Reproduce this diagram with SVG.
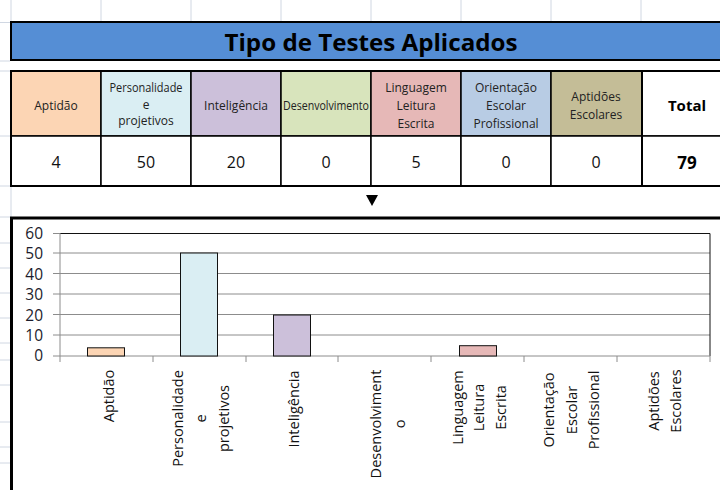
<svg xmlns="http://www.w3.org/2000/svg" width="720" height="490" viewBox="0 0 720 490">
<style>
  .grid{stroke:#d0d7e2;stroke-width:1;fill:none}
  .hdr{font-family:"Open Sans","Liberation Sans",sans-serif;font-size:12px;fill:#222;text-anchor:middle;dominant-baseline:central}
  .val{font-family:"Open Sans","Liberation Sans",sans-serif;font-size:16px;fill:#111;text-anchor:middle;dominant-baseline:central}
  .cell{stroke:#000;stroke-width:1.5}
  .ylab{font-family:"Open Sans","Liberation Sans",sans-serif;font-size:15.5px;fill:#1c1c2c;text-anchor:end;dominant-baseline:central}
  .xlab{font-family:"Open Sans","Liberation Sans",sans-serif;font-size:14.5px;fill:#111;text-anchor:middle;dominant-baseline:central}
  .gl{stroke:#8c8c8c;stroke-width:1}
  .bar{stroke:#111;stroke-width:1}
</style>
<rect width="720" height="490" fill="#fff"/>
<g id="sheet-grid">
  <path class="grid" d="M11,0V21M101,0V21M191,0V21M281,0V21M371,0V21M461,0V21M551,0V21M641,0V21M11,186V217"/>
  <path class="grid" d="M0,22.5H10M0,61H10M0,71H10M0,136H10M0,186H10M0,217H10M0,243H10M0,268H10M0,293H10M0,318H10M0,343H10M0,360H10M0,385H10M0,422H10M0,447H10M0,463H10"/>
</g>
<g id="title">
  <rect x="11" y="22" width="715" height="38" fill="#558ed5" stroke="#000" stroke-width="2"/>
  <text x="371" y="42" font-family="Open Sans, Liberation Sans, sans-serif" font-size="23" font-weight="bold" fill="#000" text-anchor="middle" dominant-baseline="central" textLength="293" lengthAdjust="spacingAndGlyphs">Tipo de Testes Aplicados</text>
</g>
<g id="table">
  <g id="h-aptidao"><rect class="cell" x="11" y="71" width="90" height="65" fill="#fcd5b4"/><text class="hdr" x="56" y="105">Aptidão</text></g>
  <g id="h-personalidade"><rect class="cell" x="101" y="71" width="90" height="65" fill="#daeef3"/>
    <text class="hdr" x="146" y="87" font-size="11" textLength="73" lengthAdjust="spacingAndGlyphs">Personalidade</text>
    <text class="hdr" x="146" y="104" font-size="11">e</text>
    <text class="hdr" x="146" y="120">projetivos</text></g>
  <g id="h-inteligencia"><rect class="cell" x="191" y="71" width="90" height="65" fill="#ccc0da"/><text class="hdr" x="236" y="105">Inteligência</text></g>
  <g id="h-desenvolvimento"><rect class="cell" x="281" y="71" width="90" height="65" fill="#d8e4bc"/><text class="hdr" x="326" y="105" font-size="10" textLength="86" lengthAdjust="spacingAndGlyphs">Desenvolvimento</text></g>
  <g id="h-linguagem"><rect class="cell" x="371" y="71" width="90" height="65" fill="#e6b8b7"/>
    <text class="hdr" x="416" y="87">Linguagem</text>
    <text class="hdr" x="416" y="105">Leitura</text>
    <text class="hdr" x="416" y="123">Escrita</text></g>
  <g id="h-orientacao"><rect class="cell" x="461" y="71" width="90" height="65" fill="#b8cce4"/>
    <text class="hdr" x="506" y="87">Orientação</text>
    <text class="hdr" x="506" y="105">Escolar</text>
    <text class="hdr" x="506" y="123">Profissional</text></g>
  <g id="h-aptidoes"><rect class="cell" x="551" y="71" width="91" height="65" fill="#c4bd97"/>
    <text class="hdr" x="596" y="96">Aptidões</text>
    <text class="hdr" x="596" y="114">Escolares</text></g>
  <g id="h-total"><rect class="cell" x="642" y="71" width="90" height="65" fill="#fff"/>
    <text x="687" y="105" font-family="Open Sans, Liberation Sans, sans-serif" font-size="15" font-weight="bold" fill="#000" text-anchor="middle" dominant-baseline="central">Total</text></g>

  <g id="v-aptidao"><rect class="cell" x="11" y="136" width="90" height="50" fill="#fff"/><text class="val" x="56" y="162">4</text></g>
  <g id="v-personalidade"><rect class="cell" x="101" y="136" width="90" height="50" fill="#fff"/><text class="val" x="146" y="162">50</text></g>
  <g id="v-inteligencia"><rect class="cell" x="191" y="136" width="90" height="50" fill="#fff"/><text class="val" x="236" y="162">20</text></g>
  <g id="v-desenvolvimento"><rect class="cell" x="281" y="136" width="90" height="50" fill="#fff"/><text class="val" x="326" y="162">0</text></g>
  <g id="v-linguagem"><rect class="cell" x="371" y="136" width="90" height="50" fill="#fff"/><text class="val" x="416" y="162">5</text></g>
  <g id="v-orientacao"><rect class="cell" x="461" y="136" width="90" height="50" fill="#fff"/><text class="val" x="506" y="162">0</text></g>
  <g id="v-aptidoes"><rect class="cell" x="551" y="136" width="91" height="50" fill="#fff"/><text class="val" x="596" y="162">0</text></g>
  <g id="v-total"><rect class="cell" x="642" y="136" width="90" height="50" fill="#fff"/>
    <text x="687" y="162" font-family="Open Sans, Liberation Sans, sans-serif" font-size="17" font-weight="bold" fill="#000" text-anchor="middle" dominant-baseline="central">79</text></g>
  <rect x="11" y="71" width="720" height="115" fill="none" stroke="#000" stroke-width="2"/>
  <line x1="642" y1="71" x2="642" y2="186" stroke="#000" stroke-width="2"/>
</g>
<g id="connectors">
  <polygon points="366,195 378,195 372,206" fill="#000"/>
</g>
<g id="chart">
  <rect x="11.5" y="218" width="720" height="290" fill="#fff" stroke="#000" stroke-width="3"/>
  <g id="gridlines">
    <line class="gl" x1="60" y1="253" x2="710" y2="253"/>
    <line class="gl" x1="60" y1="273.5" x2="710" y2="273.5"/>
    <line class="gl" x1="60" y1="294" x2="710" y2="294"/>
    <line class="gl" x1="60" y1="314.5" x2="710" y2="314.5"/>
    <line class="gl" x1="60" y1="335" x2="710" y2="335"/>
  </g>
  <path d="M60,233.5H710V356" fill="none" stroke="#111" stroke-width="1"/>
  <path class="gl" d="M60,233V362M53,233.5H60M53,253H60M53,273.5H60M53,294H60M53,314.5H60M53,335H60M53,356H60M60,356H710M153,356V362M246,356V362M338,356V362M431,356V362M524,356V362M617,356V362M710,356V362"/>
  <g id="yaxis">
    <text class="ylab" x="43" y="233">60</text>
    <text class="ylab" x="43" y="253">50</text>
    <text class="ylab" x="43" y="273.5">40</text>
    <text class="ylab" x="43" y="294">30</text>
    <text class="ylab" x="43" y="314.5">20</text>
    <text class="ylab" x="43" y="335">10</text>
    <text class="ylab" x="43" y="355">0</text>
  </g>
  <g id="bars">
    <rect class="bar" x="87.5" y="347.8" width="37" height="8.2" fill="#fcd5b4"/>
    <rect class="bar" x="180.5" y="253" width="37" height="103" fill="#daeef3"/>
    <rect class="bar" x="273.5" y="315" width="37" height="41" fill="#ccc0da"/>
    <rect class="bar" x="459.5" y="345.7" width="37" height="10.3" fill="#e6b8b7"/>
  </g>
  <g id="xaxis">
    <text class="xlab" transform="translate(108,396) rotate(-90)">Aptidão</text>
    <text class="xlab" transform="translate(177,418.5) rotate(-90)">Personalidade</text>
    <text class="xlab" transform="translate(200,418.5) rotate(-90)">e</text>
    <text class="xlab" transform="translate(223,418.5) rotate(-90)">projetivos</text>
    <text class="xlab" transform="translate(293,409) rotate(-90)">Inteligência</text>
    <text class="xlab" transform="translate(375,424) rotate(-90)">Desenvolviment</text>
    <text class="xlab" transform="translate(399,424) rotate(-90)">o</text>
    <text class="xlab" transform="translate(457,407.5) rotate(-90)">Linguagem</text>
    <text class="xlab" transform="translate(478,407.5) rotate(-90)">Leitura</text>
    <text class="xlab" transform="translate(500,407.5) rotate(-90)">Escrita</text>
    <text class="xlab" transform="translate(548,410) rotate(-90)">Orientação</text>
    <text class="xlab" transform="translate(571,410) rotate(-90)">Escolar</text>
    <text class="xlab" transform="translate(593,410) rotate(-90)">Profissional</text>
    <text class="xlab" transform="translate(653,401) rotate(-90)">Aptidões</text>
    <text class="xlab" transform="translate(675,401) rotate(-90)">Escolares</text>
  </g>
</g>
</svg>
